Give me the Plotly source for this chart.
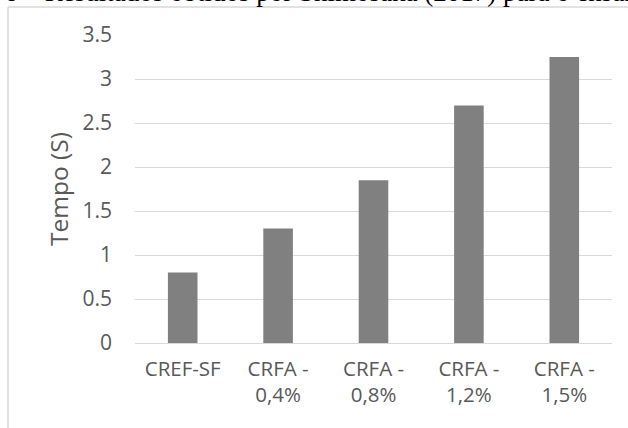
import plotly.graph_objects as go

# Data
categories = ["CREF-SF", "CRFA -<br>0,4%", "CRFA -<br>0,8%", "CRFA -<br>1,2%", "CRFA -<br>1,5%"]
tempo = [0.8, 1.3, 1.85, 2.7, 3.25]
y_ticks = [0, 0.5, 1, 1.5, 2, 2.5, 3, 3.5]
y_tick_text = ["0", "0.5", "1", "1.5", "2", "2.5", "3", "3.5"]
caption = "Gráfico 6 – Resultados obtidos por Shimosaka (2017) para o ensaio de abatimento"

W, H = 628, 428
L, R, T, B = 135, 16, 35, 85
pw, ph = W - L - R, H - T - B


def px(x):
    return (x - L) / pw


def py(y):
    return (H - B - y) / ph


text_color = "#595959"
font_family = "'Open Sans', sans-serif"

fig = go.Figure(
    go.Bar(
        x=categories,
        y=tempo,
        marker=dict(color="#808080", line=dict(width=0)),
        width=0.31,
    )
)

fig.update_layout(
    width=W,
    height=H,
    margin=dict(l=L, r=R, t=T, b=B),
    paper_bgcolor="white",
    plot_bgcolor="white",
    showlegend=False,
    font=dict(family=font_family, color=text_color, size=20),
)

fig.update_xaxes(
    showgrid=False,
    showline=False,
    zeroline=False,
    tickfont=dict(size=20.5, color=text_color),
    ticks="",
    ticklabelstandoff=11,
)

fig.update_yaxes(
    range=[0, 3.5],
    tickvals=y_ticks,
    ticktext=y_tick_text,
    showgrid=True,
    gridcolor="#d9d9d9",
    gridwidth=1,
    zeroline=True,
    zerolinecolor="#d9d9d9",
    zerolinewidth=1,
    showline=False,
    ticks="",
    ticklabelstandoff=22,
    tickfont=dict(size=21, color=text_color),
    title=dict(text="Tempo (S)", font=dict(size=24.5, color=text_color), standoff=6),
)

# Chart frame
fig.add_shape(type="line", xref="paper", yref="paper",
              x0=px(8), x1=px(8), y0=py(7), y1=py(H + 5),
              line=dict(color="#d9d9d9", width=1.5))
fig.add_shape(type="line", xref="paper", yref="paper",
              x0=px(8), x1=px(W + 5), y0=py(7), y1=py(7),
              line=dict(color="#d9d9d9", width=1.5))

# Caption above the chart
fig.add_annotation(
    text=caption, xref="paper", yref="paper",
    x=px(-87), y=py(9.5), xanchor="left", yanchor="bottom",
    showarrow=False,
    font=dict(family="'Liberation Serif', 'Times New Roman', serif", size=27, color="black"),
)

fig.write_html("out.html")
